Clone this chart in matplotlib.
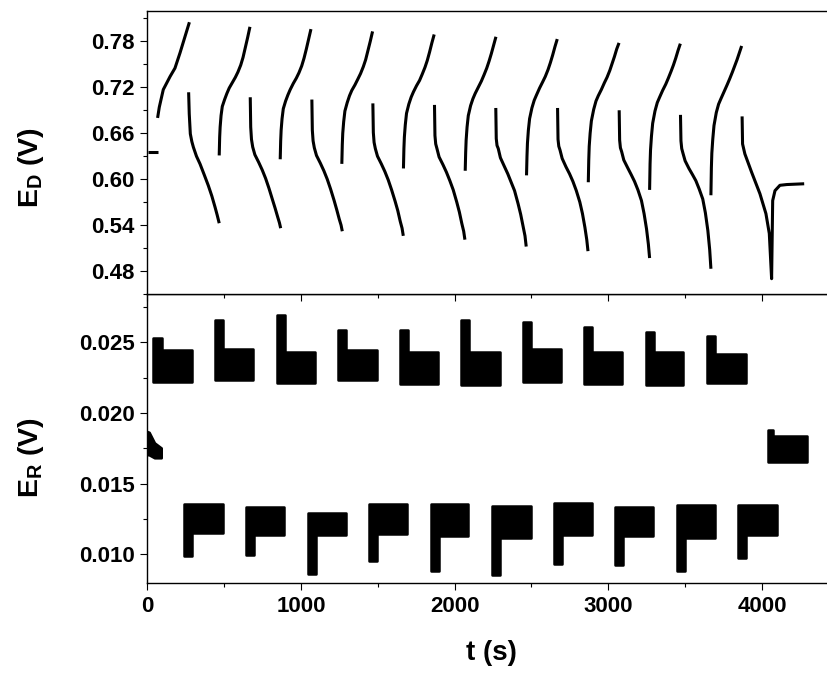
import matplotlib
matplotlib.use("Agg")
import matplotlib.pyplot as plt
from matplotlib.ticker import MultipleLocator, FormatStrFormatter

plt.rcParams['font.family'] = ['Liberation Sans', 'DejaVu Sans']
plt.rcParams['font.weight'] = 'bold'
plt.rcParams['mathtext.fontset'] = 'custom'
plt.rcParams['mathtext.rm'] = 'Liberation Sans:bold'
plt.rcParams['mathtext.bf'] = 'Liberation Sans:bold'
plt.rcParams['mathtext.it'] = 'Liberation Sans:bold'

# ---------------- top panel: E_D (V) ----------------
ed_init_t = [5, 68]
ed_init_v = [0.636, 0.636]

rise1_t = [67, 78, 104, 148, 180, 213, 245, 274]
rise1_v = [0.680, 0.694, 0.717, 0.734, 0.745, 0.765, 0.786, 0.805]

rise_rel_t = [0, 3, 6, 12, 20, 35, 50, 65, 85, 105, 122, 140, 155, 170, 185, 200]
rise_start = [468, 865, 1266, 1667, 2069, 2468, 2870, 3269, 3668]
rise_v = [
    [.631, .655, .668, .683, .695, .704, .712, .719, .726, .733, .740, .749, .759, .772, .785, .799],
    [.626, .650, .664, .679, .692, .702, .710, .717, .725, .732, .739, .748, .758, .770, .783, .796],
    [.620, .645, .660, .675, .689, .700, .709, .716, .723, .731, .738, .747, .756, .768, .780, .793],
    [.614, .640, .655, .671, .686, .698, .707, .714, .722, .729, .737, .746, .755, .766, .778, .789],
    [.611, .635, .651, .668, .683, .696, .705, .712, .720, .728, .736, .745, .754, .764, .775, .786],
    [.605, .630, .647, .664, .679, .693, .703, .710, .719, .727, .734, .743, .752, .762, .773, .783],
    [.596, .625, .643, .660, .676, .691, .702, .709, .717, .726, .733, .742, .751, .760, .770, .778],
    [.586, .620, .638, .656, .673, .689, .700, .707, .716, .724, .732, .741, .749, .758, .768, .777],
    [.579, .615, .634, .652, .670, .687, .698, .705, .714, .723, .731, .740, .748, .756, .765, .774],
]

fall1_t = [269, 273, 280, 290, 300, 320, 343, 370, 397, 420, 441, 455, 468]
fall1_v = [.7135, .6853, .6592, .649, .6417, .630, .620, .606, .5917, .578, .5634, .553, .5425]

fall_rel_t = [0, 3, 8, 16, 30, 55, 78, 100, 122, 145, 162, 178, 190, 198]
fall_start = [670, 1071, 1468, 1869, 2268, 2670, 3071, 3470]
fall_v = [
    [.707, .668, .652, .642, .632, .622, .612, .601, .588, .573, .562, .551, .543, .536],
    [.704, .664, .650, .641, .631, .621, .611, .600, .587, .572, .560, .548, .540, .532],
    [.699, .661, .648, .640, .630, .620, .610, .599, .586, .571, .559, .545, .536, .526],
    [.697, .657, .646, .640, .629, .619, .609, .598, .586, .570, .557, .542, .532, .521],
    [.693, .653, .644, .640, .628, .617, .607, .596, .585, .568, .554, .538, .526, .512],
    [.693, .652, .643, .638, .627, .616, .607, .597, .585, .570, .555, .537, .521, .506],
    [.690, .651, .641, .636, .625, .615, .606, .597, .586, .572, .555, .535, .515, .497],
    [.684, .650, .640, .634, .624, .614, .606, .598, .587, .574, .556, .533, .508, .483],
]

fall10_t = [3871, 3874, 3889, 3933, 3987, 4026, 4048, 4063, 4070, 4085, 4117, 4162, 4275]
fall10_v = [0.682, 0.646, 0.633, 0.609, 0.581, 0.555, 0.529, 0.470,
            0.572, 0.585, 0.592, 0.593, 0.594]

# ---------------- bottom panel: E_R (V) ----------------
up_t0 = [39, 441, 846, 1243, 1644, 2041, 2443, 2844, 3243, 3640]
up_ts = [94, 495, 896, 1293, 1698, 2093, 2497, 2896, 3295, 3692]
up_t1 = [289, 690, 1091, 1493, 1894, 2295, 2692, 3087, 3488, 3894]
up_peak = [0.02531, 0.02653, 0.02695, 0.02587, 0.02587, 0.02660, 0.02641, 0.02606, 0.02575, 0.02542]
up_hi = [0.02442, 0.02454, 0.02430, 0.02442, 0.02430, 0.02430, 0.02449, 0.02430, 0.02427, 0.02418]
up_lo = [0.02218, 0.02230, 0.02214, 0.02230, 0.02207, 0.02200, 0.02218, 0.02207, 0.02200, 0.02214]

lo_t0 = [241, 642, 1044, 1445, 1846, 2245, 2647, 3044, 3445, 3846]
lo_ts = [293, 694, 1096, 1497, 1898, 2297, 2699, 3096, 3497, 3898]
lo_t1 = [495, 892, 1293, 1692, 2089, 2495, 2892, 3293, 3694, 4096]
lo_dip = [0.00986, 0.00998, 0.00864, 0.00951, 0.00880, 0.00857, 0.00932, 0.00927, 0.00885, 0.00975]
lo_hi = [0.01355, 0.01338, 0.01292, 0.01355, 0.01355, 0.01345, 0.01362, 0.01338, 0.01350, 0.01350]
lo_lo = [0.01151, 0.01139, 0.01134, 0.01144, 0.01127, 0.01116, 0.01139, 0.01127, 0.01116, 0.01139]

start_t = [0, 15, 50, 94]
start_hi = [0.01866, 0.01860, 0.01785, 0.01749]
start_lo = [0.01702, 0.01700, 0.01679, 0.01679]

end_t0, end_ts, end_t1 = 4041, 4075, 4291
end_peak, end_hi, end_lo = 0.01878, 0.01835, 0.01655

x_ticks = [0, 1000, 2000, 3000, 4000]

# ---------------- figure ----------------
fig = plt.figure(figsize=(8.28, 6.75), dpi=100)
left = 147.3 / 828
ax1 = fig.add_axes([left, 0.5644, 1 - left, 0.4197])
ax2 = fig.add_axes([left, 0.1367, 1 - left, 0.4277])
ax1.set_zorder(3)

lw = 2.2
kw = dict(color='black', lw=lw, solid_capstyle='butt', solid_joinstyle='round')
ax1.plot(ed_init_t, ed_init_v, **kw)
ax1.plot(rise1_t, rise1_v, **kw)
for s, vals in zip(rise_start, rise_v):
    ax1.plot([s + r for r in rise_rel_t], vals, **kw)
ax1.plot(fall1_t, fall1_v, **kw)
for s, vals in zip(fall_start, fall_v):
    ax1.plot([s + r for r in fall_rel_t], vals, **kw)
ax1.plot(fall10_t, fall10_v, **kw)

fkw = dict(color='black', lw=1.8, joinstyle='round')
for t0, ts, t1, pk, hi, lo in zip(up_t0, up_ts, up_t1, up_peak, up_hi, up_lo):
    ax2.fill([t0, ts, ts, t1, t1, t0], [pk, pk, hi, hi, lo, lo], **fkw)
for t0, ts, t1, dp, hi, lo in zip(lo_t0, lo_ts, lo_t1, lo_dip, lo_hi, lo_lo):
    ax2.fill([t0, t0, t1, t1, ts, ts], [dp, hi, hi, lo, lo, dp], **fkw)
ax2.fill(start_t + start_t[::-1], start_hi + start_lo[::-1], **fkw)
ax2.fill([end_t0, end_ts, end_ts, end_t1, end_t1, end_t0],
         [end_peak, end_peak, end_hi, end_hi, end_lo, end_lo], **fkw)

for ax in (ax1, ax2):
    ax.set_xlim(0, 4430)
    ax.spines['right'].set_visible(False)
    for sp in ('left', 'top', 'bottom'):
        ax.spines[sp].set_linewidth(1.0)
    ax.xaxis.set_major_locator(MultipleLocator(1000))
    ax.xaxis.set_minor_locator(MultipleLocator(500))
    ax.tick_params(which='major', direction='out', length=4.8, width=0.8, labelsize=16, pad=4.5)
    ax.tick_params(which='minor', direction='out', length=2.9, width=0.8)
    ax.tick_params(top=False, right=False)
    ax.tick_params(which='minor', top=False, right=False)

ax1.set_ylim(0.45, 0.82)
ax1.yaxis.set_major_locator(MultipleLocator(0.06))
ax1.yaxis.set_minor_locator(MultipleLocator(0.03))
ax1.yaxis.set_major_formatter(FormatStrFormatter('%.2f'))
ax1.tick_params(axis='x', labelbottom=False)

ax2.set_ylim(0.008, 0.0284)
ax2.yaxis.set_major_locator(MultipleLocator(0.005))
ax2.yaxis.set_minor_locator(MultipleLocator(0.0025))
ax2.yaxis.set_major_formatter(FormatStrFormatter('%.3f'))
ax2.set_xticks(x_ticks)
ax2.xaxis.set_major_formatter(FormatStrFormatter('%d'))

fig.text(31 / 828, 1 - 167.5 / 675, r'E$_{\mathbf{D}}$ (V)', rotation=90,
         ha='center', va='center', fontsize=20.5, fontweight='bold')
fig.text(31 / 828, 1 - 457.5 / 675, r'E$_{\mathbf{R}}$ (V)', rotation=90,
         ha='center', va='center', fontsize=20.5, fontweight='bold')
fig.text(491 / 828, 1 - 653 / 675, 't (s)', ha='center', va='center',
         fontsize=20, fontweight='bold')

fig.savefig('out.png', dpi=100)
